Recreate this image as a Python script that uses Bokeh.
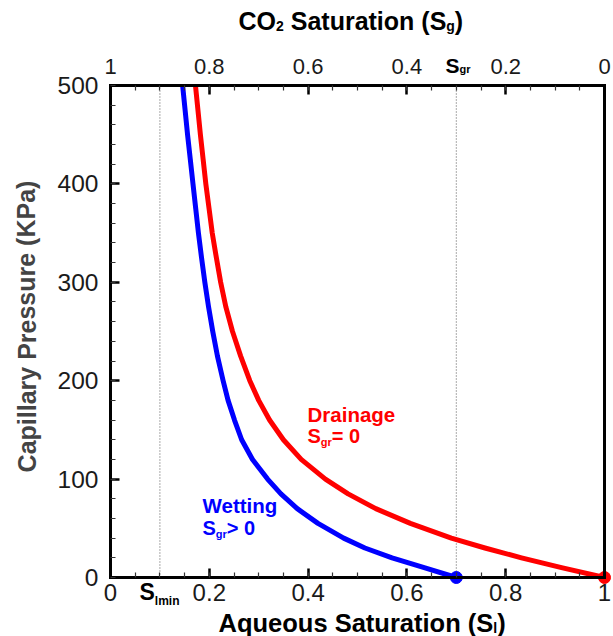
from bokeh.plotting import figure
from bokeh.models import (Range1d, LinearAxis, FixedTicker, NumeralTickFormatter,
                          Label)
from bokeh.embed import file_html
from bokeh.resources import INLINE

# ---------------- data ----------------
# Wetting curve (S_gr > 0): aqueous saturation vs capillary pressure (kPa)
wet_pc = [500, 475, 450, 425, 400, 375, 350, 325, 300, 275, 250, 225, 200, 180,
          160, 140, 120, 100, 85, 70, 55, 40, 30, 20, 10, 0]
wet_sl = [0.146, 0.151, 0.156, 0.1615, 0.167, 0.1725, 0.178, 0.1843, 0.191, 0.1985,
          0.207, 0.2165, 0.228, 0.238, 0.251, 0.2655, 0.2875, 0.318, 0.345, 0.378,
          0.420, 0.472, 0.515, 0.570, 0.635, 0.700]
# Drainage curve (S_gr = 0)
dra_pc = [500, 475, 450, 425, 400, 375, 350, 325, 300, 275, 250, 225, 200, 180,
          160, 140, 120, 100, 85, 70, 55, 40, 30, 20, 10, 0]
dra_sl = [0.172, 0.177, 0.182, 0.1875, 0.193, 0.1995, 0.206, 0.2143, 0.223, 0.2335,
          0.247, 0.2635, 0.282, 0.300, 0.322, 0.350, 0.386, 0.435, 0.481, 0.537,
          0.607, 0.690, 0.758, 0.832, 0.913, 1.000]
wet_end_sl, wet_end_pc = [0.70], [0]
dra_end_sl, dra_end_pc = [1.0], [0]
ref_sl = [0.1, 0.7]          # S_lmin and 1 - S_gr
ref_p0, ref_p1 = [0, 0], [500, 500]

x_ticks = [0, 0.2, 0.4, 0.6, 0.8, 1.0]
x_minor = [round(0.05 * i, 2) for i in range(21)]
y_ticks = [0, 100, 200, 300, 400, 500]
y_minor = list(range(0, 501, 20))

RED = "#ff0000"
BLUE = "#0000ff"
FONT = "Liberation Sans"

W, H = 613, 636
L, R, T, B = 110, 9, 85, 59          # frame box of the data area, in pixels
fw, fh = W - L - R, H - T - B
DY = -8                              # baseline correction for labels


def px2x(px):
    return (px - L) / fw


def py2y(py):
    return (H - B - py) * 500.0 / fh


p = figure(width=W, height=H, output_backend="svg", toolbar_location=None,
           x_range=Range1d(px2x(0), px2x(W)), y_range=Range1d(py2y(H), py2y(0)),
           min_border=0, x_axis_location=None, y_axis_location=None)
p.xgrid.visible = False
p.ygrid.visible = False
p.outline_line_color = None
p.background_fill_color = "white"
p.border_fill_color = "white"


def style_axis(ax, size="24px"):
    ax.axis_line_width = 3
    ax.axis_line_color = "black"
    ax.axis_line_cap = "square"
    ax.major_tick_in = 9
    ax.major_tick_out = 0
    ax.minor_tick_in = 5
    ax.minor_tick_out = 0
    ax.major_tick_line_width = 2.5
    ax.minor_tick_line_width = 1.2
    ax.major_tick_line_color = "black"
    ax.minor_tick_line_color = "#333333"
    ax.major_label_text_font = FONT
    ax.major_label_text_font_size = size
    ax.major_label_text_color = "#1a1a1a"


xb = LinearAxis(ticker=FixedTicker(ticks=x_ticks, minor_ticks=x_minor),
                formatter=NumeralTickFormatter(format="0.[0]"),
                fixed_location=0, bounds=(0, 1))
style_axis(xb)
xb.major_label_standoff = 6
p.add_layout(xb, "below")

p.extra_x_ranges = {"sg": Range1d(1 - px2x(0), 1 - px2x(W))}
xt = LinearAxis(x_range_name="sg",
                ticker=FixedTicker(ticks=x_ticks, minor_ticks=x_minor),
                formatter=NumeralTickFormatter(format="0.[0]"),
                fixed_location=500, bounds=(0, 1))
style_axis(xt, "22px")
xt.major_label_standoff = 12
p.add_layout(xt, "above")

yl = LinearAxis(ticker=FixedTicker(ticks=y_ticks, minor_ticks=y_minor),
                fixed_location=0, bounds=(0, 500))
style_axis(yl, "24.5px")
yl.major_label_standoff = 12
p.add_layout(yl, "left")

yr = LinearAxis(ticker=FixedTicker(ticks=[]), fixed_location=1, bounds=(0, 500))
style_axis(yr)
yr.major_label_text_font_size = "0px"
p.add_layout(yr, "right")

# dotted reference lines at S_lmin and 1 - S_gr
p.segment(x0=ref_sl, y0=ref_p0, x1=ref_sl, y1=ref_p1, line_color="#555555",
          line_width=1, line_dash="1 2")

p.line(wet_sl, wet_pc, line_color=BLUE, line_width=5, line_join="round")
p.line(dra_sl, dra_pc, line_color=RED, line_width=5, line_join="round")
p.scatter(wet_end_sl, wet_end_pc, size=12, color=BLUE)
p.scatter(dra_end_sl, dra_end_pc, size=12, color=RED)

WID = {'A': .722, 'q': .611, 'u': .611, 'e': .556, 'o': .611, 's': .556, ' ': .278,
       'S': .667, 'a': .556, 't': .333, 'r': .389, 'i': .278, 'n': .611, '(': .333,
       ')': .333, 'l': .278, 'C': .722, 'O': .778, '2': .556, 'g': .611, 'm': .889,
       '=': .584, '0': .556, '>': .584, 'D': .722, 'W': .944}


def rich(pieces, x0, base, color="black"):
    x = x0
    for txt, size, dy in pieces:
        while txt.startswith(" "):
            x += WID[' '] * size
            txt = txt[1:]
        p.add_layout(Label(x=px2x(x), y=py2y(base + dy + DY), text=txt,
                           text_font=FONT, text_font_style="bold",
                           text_font_size=f"{size}px", text_color=color,
                           text_align="left", text_baseline="alphabetic"))
        x += sum(WID.get(c, 0.6) for c in txt) * size


rich([("CO", 25, 0), ("2", 14, 5), (" Saturation (S", 25, 0), ("g", 14, 5),
      (")", 25, 0)], 238, 28)
rich([("Aqueous Saturation (S", 25.5, 0), ("l", 14, 5), (")", 25.5, 0)], 218, 630)
rich([("S", 23, 0), ("lmin", 12, 9)], 139, 599)
rich([("S", 21, 0), ("gr", 11, 3)], 445, 73)
rich([("Drainage", 20.5, 0)], 307, 422, RED)
rich([("S", 20, 0), ("gr", 11, 6), ("= 0", 20, 0)], 307, 443, RED)
rich([("Wetting", 20.5, 0)], 202, 513, BLUE)
rich([("S", 20, 0), ("gr", 11, 6), ("> 0", 20, 0)], 202, 535, BLUE)

p.add_layout(Label(x=px2x(26), y=py2y(326), text="Capillary Pressure (KPa)",
                   text_font=FONT, text_font_style="bold", text_font_size="25px",
                   text_align="center", text_baseline="middle", angle=1.5708))

open("out.html", "w").write(file_html(p, INLINE))
